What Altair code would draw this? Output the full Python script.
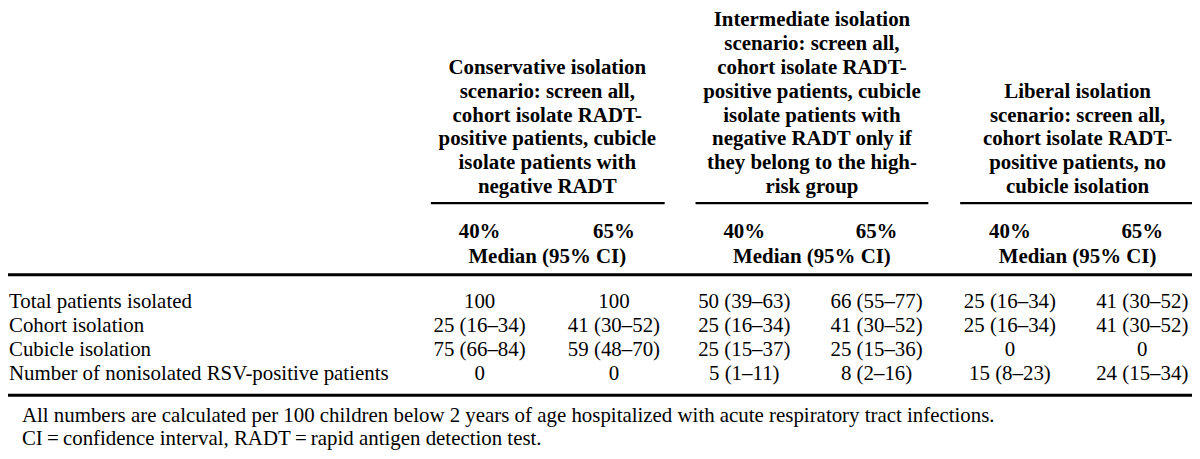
import altair as alt
import pandas as pd

# ---------------- data ----------------
row_labels = [
    "Total patients isolated",
    "Cohort isolation",
    "Cubicle isolation",
    "Number of nonisolated RSV-positive patients",
]
cons_40 = ["100", "25 (16–34)", "75 (66–84)", "0"]
cons_65 = ["100", "41 (30–52)", "59 (48–70)", "0"]
inter_40 = ["50 (39–63)", "25 (16–34)", "25 (15–37)", "5 (1–11)"]
inter_65 = ["66 (55–77)", "41 (30–52)", "25 (15–36)", "8 (2–16)"]
lib_40 = ["25 (16–34)", "25 (16–34)", "0", "15 (8–23)"]
lib_65 = ["41 (30–52)", "41 (30–52)", "0", "24 (15–34)"]

header_conservative = [
    "Conservative isolation",
    "scenario: screen all,",
    "cohort isolate RADT-",
    "positive patients, cubicle",
    "isolate patients with",
    "negative RADT",
]
header_intermediate = [
    "Intermediate isolation",
    "scenario: screen all,",
    "cohort isolate RADT-",
    "positive patients, cubicle",
    "isolate patients with",
    "negative RADT only if",
    "they belong to the high-",
    "risk group",
]
header_liberal = [
    "Liberal isolation",
    "scenario: screen all,",
    "cohort isolate RADT-",
    "positive patients, no",
    "cubicle isolation",
]
prevalence_labels = ["40%", "65%"]
stat_label = "Median (95% CI)"
footnotes = [
    "All numbers are calculated per 100 children below 2 years of age hospitalized with acute respiratory tract infections.",
    "CI\u2009=\u2009confidence interval, RADT\u2009=\u2009rapid antigen detection test.",
]

# ---------------- layout ----------------
W, H = 1190, 443
X0, Y0 = 8, 8
FONT = "Liberation Serif"
FS = 21

group_centers = [550, 816, 1083]
group_spans = [(433, 668), (699, 933), (965, 1198)]
col_centers = [482, 617, 748, 881, 1015, 1148]
header_last_y = 187
header_step = 24.0
underline_y = 203
prev_y = 232
stat_y = 257
top_rule_y = 275
row_ys = [302, 327, 351, 375]
bottom_rule_y = 396
foot_ys = [417, 440]
label_x = 9
foot_x = 22

xs = alt.Scale(domain=[X0, X0 + W], nice=False, zero=False)
ys = alt.Scale(domain=[Y0, Y0 + H], nice=False, zero=False, reverse=True)

# header texts (bold, centered)
hdr = []
for center, lines in zip(group_centers, [header_conservative, header_intermediate, header_liberal]):
    n = len(lines)
    for i, t in enumerate(lines):
        hdr.append({"x": center, "y": header_last_y - (n - 1 - i) * header_step, "text": t})
for gi, center in enumerate(group_centers):
    hdr.append({"x": col_centers[2 * gi], "y": prev_y, "text": prevalence_labels[0]})
    hdr.append({"x": col_centers[2 * gi + 1], "y": prev_y, "text": prevalence_labels[1]})
    hdr.append({"x": center, "y": stat_y, "text": stat_label})
hdr_df = pd.DataFrame(hdr)

# cell values (centered)
cells = []
for ci, col in enumerate([cons_40, cons_65, inter_40, inter_65, lib_40, lib_65]):
    for ri, v in enumerate(col):
        cells.append({"x": col_centers[ci], "y": row_ys[ri], "text": v})
cell_df = pd.DataFrame(cells)

# left texts
left = [{"x": label_x, "y": row_ys[i], "text": t} for i, t in enumerate(row_labels)]
left += [{"x": foot_x, "y": foot_ys[i], "text": t} for i, t in enumerate(footnotes)]
left_df = pd.DataFrame(left)

# rules
rules = [{"x": a, "x2": b, "y": underline_y, "w": 2.2} for a, b in group_spans]
rules.append({"x": X0, "x2": X0 + W, "y": top_rule_y, "w": 3})
rules.append({"x": X0, "x2": X0 + W, "y": bottom_rule_y, "w": 3})
rule_df = pd.DataFrame(rules)

rule_layer = alt.Chart(rule_df).mark_rule(color="black").encode(
    x=alt.X("x:Q", scale=xs, axis=None),
    x2="x2:Q",
    y=alt.Y("y:Q", scale=ys, axis=None),
    strokeWidth=alt.StrokeWidth("w:Q", scale=None, legend=None),
)

def text_layer(df, align, weight):
    return alt.Chart(df).mark_text(
        align=align, baseline="middle", font=FONT, fontSize=FS,
        fontWeight=weight, color="black",
    ).encode(
        x=alt.X("x:Q", scale=xs, axis=None),
        y=alt.Y("y:Q", scale=ys, axis=None),
        text="text:N",
    )

chart = alt.layer(
    rule_layer,
    text_layer(hdr_df, "center", "bold"),
    text_layer(cell_df, "center", "normal"),
    text_layer(left_df, "left", "normal"),
).properties(
    width=W, height=H, padding=0, background="white",
    autosize=alt.AutoSizeParams(type="none"),
).configure_view(strokeWidth=0, stroke="transparent")

chart.save("out.html", embed_options={"renderer": "svg", "actions": False})
